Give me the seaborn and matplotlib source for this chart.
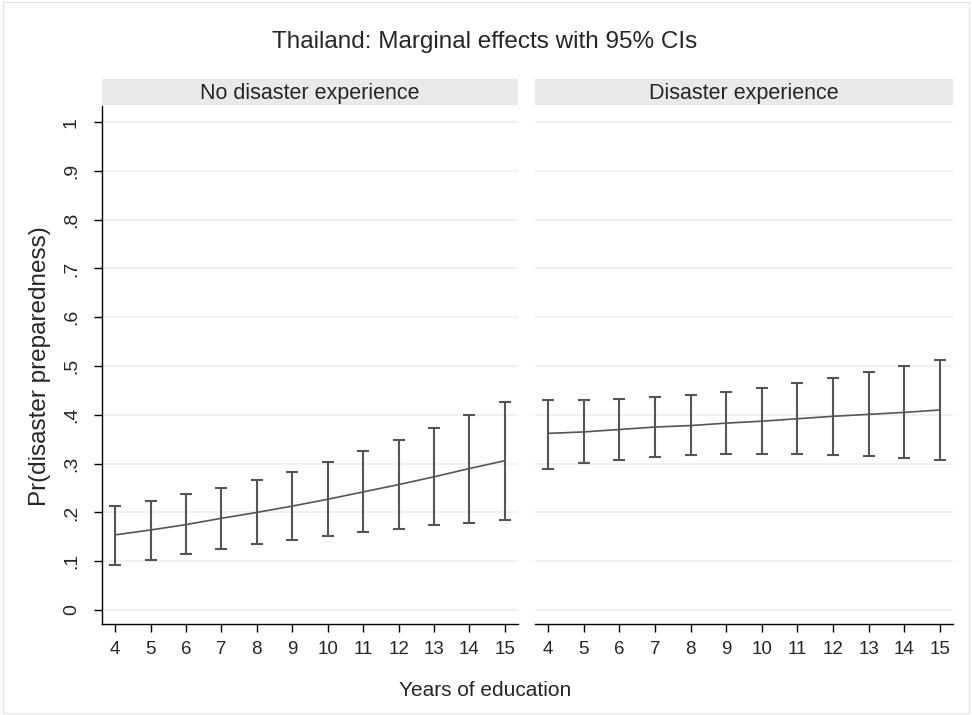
import numpy as np
import pandas as pd
import matplotlib
matplotlib.use("Agg")
import matplotlib.pyplot as plt
import seaborn as sns

years = list(range(4, 16))

no_exp_mean = [0.154, 0.164, 0.175, 0.188, 0.200, 0.213, 0.227, 0.242, 0.257, 0.273, 0.290, 0.306]
no_exp_low = [0.093, 0.103, 0.115, 0.125, 0.135, 0.143, 0.152, 0.160, 0.166, 0.174, 0.179, 0.185]
no_exp_high = [0.213, 0.224, 0.237, 0.250, 0.267, 0.283, 0.303, 0.325, 0.348, 0.373, 0.399, 0.427]

exp_mean = [0.362, 0.365, 0.370, 0.375, 0.378, 0.383, 0.387, 0.392, 0.397, 0.401, 0.405, 0.410]
exp_low = [0.290, 0.301, 0.308, 0.314, 0.318, 0.320, 0.320, 0.319, 0.318, 0.315, 0.311, 0.307]
exp_high = [0.431, 0.431, 0.432, 0.436, 0.440, 0.447, 0.455, 0.465, 0.475, 0.488, 0.500, 0.513]

panels = ["No disaster experience", "Disaster experience"]
y_ticks = [0, 0.1, 0.2, 0.3, 0.4, 0.5, 0.6, 0.7, 0.8, 0.9, 1.0]
y_tick_labels = ["0", ".1", ".2", ".3", ".4", ".5", ".6", ".7", ".8", ".9", "1"]

df = pd.concat([
    pd.DataFrame({"years": years, "mean": no_exp_mean, "low": no_exp_low,
                  "high": no_exp_high, "panel": panels[0]}),
    pd.DataFrame({"years": years, "mean": exp_mean, "low": exp_low,
                  "high": exp_high, "panel": panels[1]}),
])

sns.set_style("white")
plt.rcParams['font.family'] = ['Liberation Sans', 'DejaVu Sans']

line_col = "#555555"
grid_col = "#eaf2f3"
strip_col = "#eaeaea"

fig = plt.figure(figsize=(9.72, 7.15), dpi=100)
W, H = 972, 715
boxes = [(102, 518), (535, 953)]
top, bottom = 106, 624
strip_top = 79

for i, (panel, (x0, x1)) in enumerate(zip(panels, boxes)):
    ax = fig.add_axes([x0 / W, 1 - bottom / H, (x1 - x0) / W, (bottom - top) / H])
    sub = df[df["panel"] == panel]
    for yt in y_ticks:
        ax.axhline(yt, color=grid_col, lw=1.3, zorder=0)
    ax.errorbar(sub["years"], sub["mean"],
                yerr=[sub["mean"] - sub["low"], sub["high"] - sub["mean"]],
                fmt="none", ecolor=line_col, elinewidth=1.5, capsize=4, capthick=1.5, zorder=2)
    sns.lineplot(data=sub, x="years", y="mean", ax=ax, color=line_col, lw=1.2, zorder=3)
    ax.set_xlim(3.63, 15.37)
    ax.set_ylim(-0.0287, 1.033)
    ax.set_xticks(years)
    ax.set_xticklabels([str(y) for y in years], fontsize=13.5)
    ax.set_xlabel("")
    ax.set_ylabel("")
    ax.tick_params(axis="x", length=6, width=1, color="black", pad=6, bottom=True)
    for s in ["top", "right"]:
        ax.spines[s].set_visible(False)
    ax.spines["bottom"].set_color("black")
    ax.spines["bottom"].set_linewidth(1)
    if i == 0:
        ax.set_yticks(y_ticks)
        ax.set_yticklabels(y_tick_labels, fontsize=14, rotation=90, va="center")
        ax.tick_params(axis="y", length=6, width=1, color="black", pad=10, left=True)
        ax.spines["left"].set_color("black")
        ax.spines["left"].set_linewidth(1)
    else:
        ax.set_yticks(y_ticks)
        ax.set_yticklabels([])
        ax.tick_params(axis="y", length=0)
        ax.spines["left"].set_visible(False)
    # facet strip
    sax = fig.add_axes([x0 / W, 1 - (top - 1) / H, (x1 - x0) / W, (top - 1 - strip_top) / H])
    sax.set_facecolor(strip_col)
    sax.set_xticks([])
    sax.set_yticks([])
    for s in sax.spines.values():
        s.set_visible(False)
    sax.text(0.5, 0.45, panel, ha="center", va="center", fontsize=15.5, transform=sax.transAxes)

fig.text(485 / W, 1 - 42 / H, "Thailand: Marginal effects with 95% CIs", ha="center", va="center", fontsize=17.5)
fig.text(485 / W, 1 - 690 / H, "Years of education", ha="center", va="center", fontsize=15)
fig.text(40 / W, 1 - 366 / H, "Pr(disaster preparedness)", ha="center", va="center", rotation=90, fontsize=17.5)

fig.patches.append(plt.Rectangle((0.003, 0.003), 0.994, 0.994, transform=fig.transFigure,
                                 fill=False, edgecolor="#e6e6e6", lw=1))

fig.savefig("out.png", dpi=100)
